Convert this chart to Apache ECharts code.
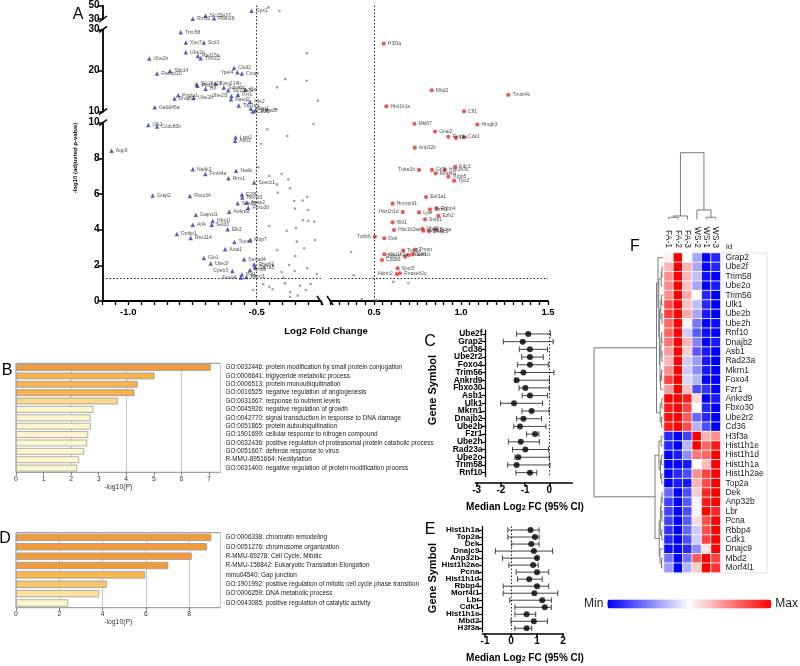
<!DOCTYPE html>
<html><head><meta charset="utf-8">
<script src="https://cdn.jsdelivr.net/npm/echarts@6/dist/echarts.min.js"></script>
<style>html,body{margin:0;padding:0;background:#fff}#c{width:800px;height:666px}</style>
</head><body><div id="c"></div>
<script>
const FONT = '"Liberation Sans", Arial, Helvetica, sans-serif';

// ---------------- Panel A : volcano ----------------
const downGenes = ['Gpx1','Slc25a37','Rnf10','Rbm38','Trim58','Xpo7','Scd1','Ube2o','Rad23a','Tmcc2',
 'Ube2h','Slfn14','Ranbp10','Cisd2','Ypel4','Cmas','Slc16a10','Pim1','Hlf','Fam214b',
 'Sowahc','Slc25a39','Cat','Ube2l3','Fzr1','Pnpla1','Dnajb2','Ube2b','Gadd45a','Rasd2',
 'Top1mt','Hfe2','Mkrn1','Cd36','St3gal5','Ulk1','Ccdc60b','Aqp9','Lpin2','Asb1',
 'Nadk2','Fmnl4a','Nadk','Rrm1','Specc1','Grap2','Fbxo34','E2f8','Hectd3','Asap2',
 'Snx15','Fbxo30','Ankrd9','Gapvd1','Hbs1l','Setd3','Arl4','Elk3','Dnttip1','Rec114',
 'Tcea3','Mpp7','Acat1','Glo1','Ube2f','Sertad4','Rhebl1','Slc7a5','Cpeb3','Rhob',
 'Pld1','Foxo4','Mkrn3'];
const downLfc = [-0.52,-0.699,-0.749,-0.666,-0.796,-0.776,-0.706,-0.776,-0.729,-0.718,
 -0.918,-0.838,-0.888,-0.588,-0.575,-0.558,-0.734,-0.731,-0.699,-0.66,
 -0.628,-0.611,-0.544,-0.598,-0.573,-0.806,-0.82,-0.745,-0.897,-0.6,
 -0.57,-0.526,-0.523,-0.515,-0.505,-0.922,-0.888,-1.065,-0.582,-0.584,
 -0.749,-0.7,-0.58,-0.61,-0.51,-0.905,-0.76,-0.558,-0.556,-0.539,
 -0.574,-0.533,-0.607,-0.737,-0.671,-0.675,-0.749,-0.613,-0.811,-0.757,
 -0.587,-0.526,-0.623,-0.706,-0.679,-0.549,-0.51,-0.507,-0.595,-0.526,
 -0.558,-0.562,-0.54];
const downNlp = [42.5,35,30.5,31,29.3,26.8,26.8,24.4,23.5,23.0,
 22.9,19.9,19.3,20.6,19.6,19.3,16.7,16.3,15.6,16.8,
 15.9,15.2,15.3,13.8,14.1,14.0,13.2,13.3,11.1,13.0,
 11.5,12.4,10.8,10.05,10.3,9.87,9.78,8.43,9.18,8.99,
 7.39,7.12,7.31,6.88,6.64,5.91,5.89,5.98,5.8,5.53,
 5.48,5.23,5.01,4.84,4.49,4.28,4.28,4.02,3.76,3.53,
 3.31,3.42,2.9,2.41,2.11,2.34,2.06,1.89,1.68,1.74,
 1.48,1.32,1.35];

const upGenes = ['H3f3a','Mbd2','Tmsb4x','Hist1h1e','Cfl1','Hmgb3','Mki67','Gnai2','Rex1','Lbr',
 'Cdk1','Anp32b','Kifc1','Tuba1b','Gtf3','Hist1h3c','Morf4l1','Tubb5','Tpx2','Eef1a1',
 'Hnrnpul1','Rbbp4','Srrm1','Lyar','Hist1h1d','Ezh2','Ssrp1','Rbl1','Uhrf2','Hist1h2ae',
 'Pcna','Anp32e','Dnajc9','Tubb6','Dek','Top2a','Tmpo','Hist1h1a','Eef1d','Rbbp7',
 'Nudt4','Cdca3','Smc5','Akirin2','Rnaseh2c'];
const upLfc = [0.556,0.832,1.272,0.571,1.017,1.094,0.732,0.851,0.927,0.971,
 1.017,0.734,0.967,0.759,0.833,0.908,0.855,0.927,0.96,0.799,
 0.607,0.86,0.822,0.759,0.665,0.87,0.793,0.607,0.778,0.615,
 0.855,0.784,0.816,0.505,0.559,0.668,0.736,0.559,0.722,0.678,
 0.699,0.546,0.636,0.631,0.649];
const upNlp = [26.5,15.2,14.1,11.3,10.1,9.9,9.94,9.5,9.21,9.14,
 9.2,8.6,7.53,7.35,7.35,7.35,7.16,6.97,6.75,5.83,
 5.46,5.2,5.14,4.97,4.99,4.77,4.58,4.41,4.04,3.98,
 4.02,3.94,3.91,3.61,3.52,2.82,2.88,2.62,2.62,2.49,
 2.58,2.3,1.83,1.51,1.55];

const nsLfc = [-0.454,-0.411,
 -0.305,-0.389,-0.305,-0.42,-0.262,-0.423,-0.46,
 -0.459,-0.381,-0.279,-0.483,
 -0.494,-0.451,-0.403,-0.377,-0.421,-0.37,-0.418,-0.303,-0.354,-0.321,
 -0.351,-0.301,-0.32,-0.299,-0.276,-0.451,-0.383,-0.347,-0.344,-0.273,
 -0.315,-0.42,-0.35,-0.47,-0.438,-0.374,-0.352,-0.304,-0.403,-0.266,
 -0.475,-0.451,-0.438,-0.39,-0.331,-0.309,-0.29,-0.37,-0.34,-0.37,
 -0.513,-0.396,
 0.368,0.383,0.611,0.697,0.43,0.515];
const nsNlp = [47.5,42,
 24.2,17.9,17.5,15.9,12.7,10.6,10.4,
 9.63,9.25,9.93,8.82,
 7.5,7.01,7.12,6.83,6.54,6.32,6.07,5.83,5.61,5.63,
 5.18,5.1,4.53,4.49,4.45,4.21,3.94,4.09,3.33,3.42,
 2.96,2.86,2.52,1.92,2.02,2.02,1.68,1.83,1.63,1.51,
 0.94,0.8,0.66,0.99,0.86,0.62,0.95,0.5,0.3,0.24,
 0.62,1.31,
 2.75,1.44,1.07,1.01,0.1,0.05];
const leftLabelGenes = ['Ypel4','Ube2l3','Foxo4','Tuba1b','Hist1h1d','Akirin2','Tubb6','Cpeb3','Rbbp7'];
const aYTicks = [[30,50],[10,20,30],[0,2,4,6,8,10]];
const aXLabels = {L:[-1,-0.5], R:[0.5,1,1.5]};

// ---------------- Panel B / D : enrichment bars ----------------
const bTerms = ['GO:0032446: protein modification by small protein conjugation',
 'GO:0006641: triglyceride metabolic process',
 'GO:0006513: protein monoubiquitination',
 'GO:0016525: negative regulation of angiogenesis',
 'GO:0031667: response to nutrient levels',
 'GO:0045926: negative regulation of growth',
 'GO:0042770: signal transduction in response to DNA damage',
 'GO:0051865: protein autoubiquitination',
 'GO:1901699: cellular response to nitrogen compound',
 'GO:0032436: positive regulation of proteasomal protein catabolic process',
 'GO:0051607: defense response to virus',
 'R-MMU-8951664: Neddylation',
 'GO:0031400: negative regulation of protein modification process'];
const bValues = [7.07,5.03,4.41,4.30,3.70,2.81,2.71,2.71,2.62,2.58,2.47,2.29,2.22];
const bColors = ['#f39a3c','#f7b24c','#f7b24c','#f7b24c','#fcd68e','#fef6cc','#fef6cc','#fef6cc','#fef6cc','#fef6cc','#fef6cc','#fef6cc','#fef6cc'];
const bTicks = [0,1,2,3,4,5,6,7];

const dTerms = ['GO:0006338: chromatin remodeling',
 'GO:0051276: chromosome organization',
 'R-MMU-69278: Cell Cycle, Mitotic',
 'R-MMU-156842: Eukaryotic Translation Elongation',
 'mmu04540: Gap junction',
 'GO:1901992: positive regulation of mitotic cell cycle phase transition',
 'GO:0006259: DNA metabolic process',
 'GO:0043085: positive regulation of catalytic activity'];
const dValues = [9.03,8.82,8.12,7.04,5.97,4.20,3.85,2.41];
const dColors = ['#f39a3c','#f39a3c','#f39a3c','#f39a3c','#f9b84f','#fbc76a','#fde1a3','#fef6cc'];
const dTicks = [0,2,4,6,8];

// ---------------- Panel C / E : forest plots ----------------
const cGenes = ['Ube2f','Grap2','Cd36','Ube2r2','Foxo4','Trim56','Ankrd9','Fbxo30','Asb1','Ulk1','Mkrn1','Dnajb2','Ube2b','Fzr1','Ube2h','Rad23a','Ube2o','Trim58','Rnf10'];
const cMed = [-0.87,-1.1,-0.8,-0.8,-0.8,-1.07,-1.35,-0.99,-0.8,-1.46,-0.73,-1.07,-1.21,-0.59,-1.18,-0.99,-1.28,-1.35,-0.8];
const cLo  = [-1.35,-1.9,-1.24,-1.14,-1.32,-1.42,-1.42,-1.25,-1.12,-2.01,-1.13,-1.35,-1.47,-0.94,-1.69,-1.52,-1.42,-1.72,-1.38];
const cHi  = [0.05,0.16,-0.07,-0.25,-0.04,0.19,0.0,0.0,-0.07,-0.28,-0.01,-0.32,-0.14,-0.43,-0.41,-0.03,0.0,0.03,-0.52];
const cTicks = [-3,-2,-1,0];

const eGenes = ['Hist1h1a','Top2a','Dek','Dnajc9','Anp32b','Hist1h2ae','Pcna','Hist1h1d','Rbbp4','Morf4l1','Lbr','Cdk1','Hist1h1e','Mbd2','H3f3a'];
const eMed = [0.75,0.92,0.78,0.88,1.0,0.85,1.0,0.7,1.0,0.9,1.2,1.3,0.6,0.88,0.6];
const eLo  = [-0.12,-0.12,0.03,-0.6,-0.33,-0.08,0.2,0.25,-0.3,-0.3,-0.05,0.15,0.15,0.0,0.15];
const eHi  = [1.08,1.08,1.08,1.6,1.02,1.05,1.45,1.2,1.45,1.8,1.55,1.55,0.95,1.4,0.8];
const eTicks = [-1,0,1,2];

// ---------------- Panel F : heatmap ----------------
const fCols = ['FA-1','FA-2','FA-3','WS-2','WS-1','WS-3'];
const fRows = ['Grap2','Ube2f','Trim58','Ube2o','Trim56','Ulk1','Ube2b','Ube2h','Rnf10','Dnajb2','Asb1','Rad23a','Mkrn1','Foxo4','Fzr1','Ankrd9','Fbxo30','Ube2r2','Cd36',
 'H3f3a','Hist1h1e','Hist1h1d','Hist1h1a','Hist1h2ae','Top2a','Dek','Anp32b','Lbr','Pcna','Rbbp4','Cdk1','Dnajc9','Mbd2','Morf4l1'];
const fValues = [
 [0.05,1,0,-0.35,-1,-0.85],
 [0.3,1,0.3,-0.35,-1,-0.85],
 [0.45,1,0.3,-0.25,-0.95,-1],
 [0.45,1,0.25,-0.35,-1,-0.9],
 [0.45,1,0.35,0,-0.85,-1],
 [0.7,1,0.25,-0.25,-0.85,-1],
 [0.75,1,0.35,-0.35,-0.9,-1],
 [0.6,1,0.05,-0.55,-1,-0.95],
 [0.6,1,-0.2,-0.65,-0.95,-1],
 [0.55,1,0.3,-0.5,-1,-0.9],
 [0.4,1,0.2,-0.65,-0.9,-1],
 [0.3,1,-0.2,-0.4,-0.9,-1],
 [0.45,1,-0.2,-0.45,-0.9,-1],
 [0.75,1,-0.15,-0.3,-1,-1],
 [0.4,1,0.25,-0.7,-0.8,-1],
 [1,1,0.9,0.15,-1,-0.9],
 [0.9,1,0.75,0,-0.85,-1],
 [0.95,1,0.65,-0.6,-0.85,-1],
 [0.9,1,0.7,-0.3,-0.7,-1],
 [-0.85,-1,-0.75,1,0.3,0.45],
 [-0.85,-1,-0.3,1,0.6,0.9],
 [-1,-0.9,-0.45,0.55,0.6,1],
 [-1,-1,-0.9,0,0.25,1],
 [-1,-0.85,-0.7,0.45,0.75,1],
 [-1,-0.9,-0.9,0.3,0.7,1],
 [-0.6,-1,-0.7,0.2,0.85,1],
 [-0.75,-1,-0.65,0.05,0.9,1],
 [-0.75,-1,-0.7,0.05,1,0.85],
 [-0.75,-1,-0.65,0.15,0.7,1],
 [-0.8,-1,-0.6,-0.2,0.7,1],
 [-0.85,-1,-0.7,-0.2,0.75,1],
 [-0.95,-1,-0.85,-0.45,0.1,1],
 [-0.55,-1,-0.55,0.65,1,0.75],
 [-0.4,-1,-0.3,0.2,1,0.8]];
// dendrogram merges [childA, childB, height]; leaves are 0..n-1, merge k gets id n+k
const colMerges = [[0,1,0.6],[6,2,1.0],[4,5,0.6],[3,8,2.8],[7,9,20]];
const rowMerges = [[1,2,1.2],[34,3,1.8],[4,5,1.4],[6,7,1.0],[36,37,2.2],[8,9,1.3],[10,11,1.1],[39,40,2.0],
 [12,13,1.5],[42,14,2.4],[41,43,3.0],[38,44,3.6],[35,45,4.2],[0,46,5.0],[15,16,1.2],[17,18,1.6],[48,49,2.8],[47,50,6.5],
 [19,20,1.8],[21,22,1.4],[23,24,1.2],[53,54,2.5],[52,55,4.0],[25,26,1.0],[27,28,1.1],[57,58,1.9],[29,30,1.3],[59,60,2.6],
 [32,33,1.5],[31,62,3.0],[61,63,3.8],[56,64,8.0],[51,65,69]];

// =====================================================================
const grids = [], xAxes = [], yAxes = [], series = [];
function addGrid(g){ g.outerBoundsMode = 'none'; grids.push(g); return grids.length - 1; }

// ---- Panel A construction ----
const segDefs = [
  {top:5.7, height:13.3, min:30, max:50},
  {top:29.3, height:82.4, min:10, max:30},
  {top:122.7, height:178.3, min:0, max:10}];
const sideDefs = {L:{left:102.6, width:218.3, min:-1.1, max:-0.25}, R:{left:330.5, width:217.5, min:0.25, max:1.5}};
function segIndex(n){ return n > 30 ? 0 : (n > 10 ? 1 : 2); }
function tickSteps(min, max){ const t=[]; for(let v=Math.round(min*20); v<=Math.round(max*20); v++) t.push(v/20); return t; }
const dotLine = {color:'#222', width:1, type:[1.5,2]};

['L','R'].forEach(side => {
  const sd = sideDefs[side];
  segDefs.forEach((sg, si) => {
    const g = addGrid({left:sd.left, width:sd.width, top:sg.top, height:sg.height});
    const isBottom = si === 2;
    xAxes.push({type:'value', gridIndex:g, min:sd.min, max:sd.max, show:isBottom,
      axisLine:{show:true, onZero:false, lineStyle:{color:'#000', width:1.8}},
      axisTick:{show:true, customValues:tickSteps(sd.min, sd.max), length:4, lineStyle:{color:'#000', width:1.3}},
      axisLabel:{customValues:aXLabels[side], formatter:v=>v.toFixed(1), fontSize:9.5, fontWeight:'bold', color:'#000', margin:6, fontFamily:FONT},
      splitLine:{show:false}});
    yAxes.push({type:'value', gridIndex:g, min:sg.min, max:sg.max, show:side==='L',
      axisLine:{show:true, onZero:false, lineStyle:{color:'#000', width:1.8}},
      axisTick:{show:true, customValues:aYTicks[si], length:5, lineStyle:{color:'#000', width:1.5}},
      axisLabel:{customValues:aYTicks[si], fontSize:10, fontWeight:'bold', color:'#000', margin:3, fontFamily:FONT},
      splitLine:{show:false}});
    const ax = xAxes.length - 1, ay = yAxes.length - 1;
    const inSide = v => side === 'L' ? v < 0 : v > 0;
    const ns = [];
    nsLfc.forEach((v,i) => { if (inSide(v) && segIndex(nsNlp[i]) === si) ns.push([v, nsNlp[i]]); });
    const nsSeries = {type:'scatter', xAxisIndex:ax, yAxisIndex:ay, data:ns, symbol:'circle', symbolSize:2.6,
      itemStyle:{color:'#8a8a8a'}, silent:true, z:2};
    if (isBottom) nsSeries.markLine = {silent:true, symbol:['none','none'], label:{show:false}, lineStyle:dotLine, data:[{yAxis:1.3}]};
    series.push(nsSeries);
    const genes = side === 'L' ? downGenes : upGenes;
    const lfc = side === 'L' ? downLfc : upLfc;
    const nlp = side === 'L' ? downNlp : upNlp;
    const pts = [];
    genes.forEach((nm,i) => {
      if (segIndex(nlp[i]) !== si) return;
      const left = leftLabelGenes.indexOf(nm) >= 0;
      pts.push({name:nm, value:[lfc[i], nlp[i]], label:{position:left?'left':'right'}});
    });
    series.push({type:'scatter', xAxisIndex:ax, yAxisIndex:ay, data:pts,
      symbol: side === 'L' ? 'triangle' : 'circle', symbolSize: side === 'L' ? 4.5 : 4.2,
      itemStyle:{color: side === 'L' ? '#2e3aa6' : '#e3302b'}, z:3,
      label:{show:true, formatter:'{b}', fontSize:5, color:'#222', distance:2, fontFamily:FONT}});
  });
  // overlay grid for full-height dotted FC threshold
  const og = addGrid({left:sd.left, width:sd.width, top:5.7, height:295.3});
  xAxes.push({type:'value', gridIndex:og, min:sd.min, max:sd.max, show:false});
  yAxes.push({type:'value', gridIndex:og, min:0, max:1, show:false});
  series.push({type:'scatter', xAxisIndex:xAxes.length-1, yAxisIndex:yAxes.length-1, data:[], silent:true,
    markLine:{silent:true, symbol:['none','none'], label:{show:false}, lineStyle:dotLine, data:[{xAxis: side==='L' ? -0.5 : 0.5}]}});
});

// ---- Panels B and D ----
function enrichPanel(top, height, max, terms, values, colors, ticks, barW){
  const g = addGrid({left:16, width:204.5, top:top, height:height, show:true, borderColor:'#8c8c8c', borderWidth:1});
  xAxes.push({type:'value', gridIndex:g, min:0, max:max, position:'bottom',
    axisLine:{show:false}, axisTick:{show:true, customValues:ticks, length:3, lineStyle:{color:'#777'}},
    axisLabel:{customValues:ticks, fontSize:6.8, color:'#333', margin:3, fontFamily:FONT},
    splitLine:{show:false}, name:'-log10(P)', nameLocation:'middle', nameGap:11,
    nameTextStyle:{fontSize:6.8, color:'#333', fontFamily:FONT}});
  const bx = xAxes.length - 1;
  xAxes.push({type:'value', gridIndex:g, min:0, max:max, interval:2, position:'bottom',
    axisLine:{show:false}, axisTick:{show:false}, axisLabel:{show:false},
    splitLine:{show:true, lineStyle:{color:'#c8c8c8', width:1}}});
  yAxes.push({type:'category', gridIndex:g, data:terms, inverse:true, position:'right',
    axisLine:{show:false}, axisTick:{show:false},
    axisLabel:{interval:0, fontSize:6.4, color:'#222', margin:5, align:'left', fontFamily:FONT}});
  series.push({type:'bar', xAxisIndex:bx, yAxisIndex:yAxes.length-1, barWidth:barW,
    data: values.map((v,i)=>({value:v, itemStyle:{color:colors[i]}})),
    itemStyle:{borderColor:'#9a9a9a', borderWidth:0.8}, silent:true, z:3});
}
enrichPanel(363.3, 109, 7.42, bTerms, bValues, bColors, bTicks, 6.8);
enrichPanel(532.7, 75, 9.45, dTerms, dValues, dColors, dTicks, 7.3);

// ---- Panels C and E ----
function errRender(params, api){
  const y = api.value(2);
  const a = api.coord([api.value(0), y]), b = api.coord([api.value(1), y]);
  const c = 2.8, st = {stroke:'#444', lineWidth:1};
  return {type:'group', children:[
    {type:'line', shape:{x1:a[0], y1:a[1], x2:b[0], y2:b[1]}, style:st},
    {type:'line', shape:{x1:a[0], y1:a[1]-c, x2:a[0], y2:a[1]+c}, style:st},
    {type:'line', shape:{x1:b[0], y1:b[1]-c, x2:b[0], y2:b[1]+c}, style:st}]};
}
function forestPanel(box, xmin, xmax, xOffset, yOffset, genes, med, lo, hi, ticks, labelSize){
  const g = addGrid(box);
  xAxes.push({type:'value', gridIndex:g, min:xmin, max:xmax, offset:xOffset,
    axisLine:{show:true, onZero:false, lineStyle:{color:'#000', width:1.5}},
    axisTick:{show:true, customValues:ticks, length:4, lineStyle:{color:'#000', width:1.5}},
    axisLabel:{customValues:ticks, fontSize:10, fontWeight:'bold', color:'#000', margin:3, fontFamily:FONT},
    splitLine:{show:false}});
  yAxes.push({type:'category', gridIndex:g, data:genes, inverse:true, offset:yOffset,
    axisLine:{show:true, onZero:false, lineStyle:{color:'#000', width:1.3}},
    axisTick:{show:true, alignWithLabel:true, interval:0, length:4, lineStyle:{color:'#000', width:1.2}},
    axisLabel:{interval:0, fontSize:labelSize, fontWeight:'bold', color:'#000', margin:3, fontFamily:FONT},
    splitLine:{show:false}});
  const ax = xAxes.length-1, ay = yAxes.length-1;
  series.push({type:'custom', xAxisIndex:ax, yAxisIndex:ay, renderItem:errRender,
    encode:{x:[0,1], y:2}, data: genes.map((n,i)=>[lo[i], hi[i], i]), silent:true, z:3});
  series.push({type:'scatter', xAxisIndex:ax, yAxisIndex:ay, symbolSize:6, itemStyle:{color:'#000'},
    data: genes.map((n,i)=>[med[i], i]), silent:true, z:4,
    markLine:{silent:true, symbol:['none','none'], label:{show:false}, lineStyle:dotLine, data:[{xAxis:0}]}});
}
forestPanel({left:475.5, top:330.1, width:96.8, height:146.4}, -3.05, 0.95, 6, -10, cGenes, cMed, cLo, cHi, cTicks, 8.4);
forestPanel({left:482.4, top:526.5, width:80.6, height:105.3}, -1.1, 2, 1.5, 0, eGenes, eMed, eLo, eHi, eTicks, 8);

// ---- Panel F ----
function treeSegments(n, merges){
  const pos = [], hgt = [], out = [];
  for (let i=0;i<n;i++){ pos[i]=i; hgt[i]=0; }
  merges.forEach((m,k) => { const id=n+k; pos[id]=(pos[m[0]]+pos[m[1]])/2; hgt[id]=m[2];
    out.push([pos[m[0]], hgt[m[0]], pos[m[1]], hgt[m[1]], m[2]]); });
  return out;
}
function dendroRender(vertical){
  return function(params, api){
    const pA=api.value(0), hA=api.value(1), pB=api.value(2), hB=api.value(3), h=api.value(4);
    const pt = vertical ? (p,hh)=>api.coord([p,hh]) : (p,hh)=>api.coord([hh,p]);
    return {type:'polyline', shape:{points:[pt(pA,hA), pt(pA,h), pt(pB,h), pt(pB,hB)]},
      style:{stroke:'#7a7a7a', fill:'none', lineWidth:1}};
  };
}
const hg = addGrid({left:664, top:253, width:56.4, height:319.6});
xAxes.push({type:'category', gridIndex:hg, data:fCols, position:'top',
  axisLine:{show:false}, axisTick:{show:false},
  axisLabel:{interval:0, rotate:90, fontSize:8.5, color:'#222', margin:5, fontFamily:FONT}});
yAxes.push({type:'category', gridIndex:hg, data:fRows, inverse:true, position:'right',
  axisLine:{show:false}, axisTick:{show:false},
  axisLabel:{interval:0, fontSize:8.5, color:'#222', margin:5, fontFamily:FONT}});
const heatData = [];
fValues.forEach((row,r) => row.forEach((v,c) => heatData.push([c, r, v])));
series.push({type:'heatmap', xAxisIndex:xAxes.length-1, yAxisIndex:yAxes.length-1, data:heatData,
  itemStyle:{borderColor:'#ffffff', borderWidth:0.8}, silent:true});
const heatSeriesIndex = series.length - 1;

const cg = addGrid({left:664, top:152.7, width:56.4, height:66.6});
xAxes.push({type:'value', gridIndex:cg, min:-0.5, max:5.5, show:false});
yAxes.push({type:'value', gridIndex:cg, min:0, max:20, show:false});
series.push({type:'custom', xAxisIndex:xAxes.length-1, yAxisIndex:yAxes.length-1, renderItem:dendroRender(true),
  data:treeSegments(fCols.length, colMerges), silent:true});

const rg = addGrid({left:593, top:253, width:70, height:319.6});
xAxes.push({type:'value', gridIndex:rg, min:0, max:70, inverse:true, show:false});
yAxes.push({type:'value', gridIndex:rg, min:-0.5, max:33.5, inverse:true, show:false});
series.push({type:'custom', xAxisIndex:xAxes.length-1, yAxisIndex:yAxes.length-1, renderItem:dendroRender(false),
  data:treeSegments(fRows.length, rowMerges), silent:true});

// ---- decorations / titles ----
function txt(x, y, text, font, extra){
  return Object.assign({type:'text', x:x, y:y, silent:true,
    style:Object.assign({text:text, font:font, fill:'#000', textAlign:'center', textVerticalAlign:'middle', verticalAlign:'middle'}, extra||{})});
}
function seg(x1,y1,x2,y2,w){ return {type:'line', silent:true, shape:{x1,y1,x2,y2}, style:{stroke:'#000', lineWidth:w||1.5}}; }
const subRich = {s:{fontSize:7, fontWeight:'bold', fontFamily:FONT, verticalAlign:'bottom', lineHeight:9}};
const elements = [
  txt(78, 15, 'A', '16px ' + FONT),
  txt(7, 371, 'B', '16px ' + FONT),
  txt(430, 342, 'C', '16px ' + FONT),
  txt(5, 539, 'D', '16px ' + FONT),
  txt(430, 530, 'E', '16px ' + FONT),
  txt(635, 247, 'F', '16px ' + FONT),
  txt(326, 331, 'Log2 Fold Change', 'bold 9.6px ' + FONT),
  Object.assign(txt(75, 158, '-log10 (adjusted p-value)', 'bold 6px ' + FONT), {rotation:Math.PI/2}),
  Object.assign(txt(433, 390, 'Gene Symbol', 'bold 11px ' + FONT), {rotation:Math.PI/2}),
  Object.assign(txt(433, 578, 'Gene Symbol', 'bold 11px ' + FONT), {rotation:Math.PI/2}),
  txt(525, 507, 'Median Log{s|2} FC (95% CI)', 'bold 10px ' + FONT, {rich:subRich}),
  txt(525, 658, 'Median Log{s|2} FC (95% CI)', 'bold 10px ' + FONT, {rich:subRich}),
  txt(729, 247, 'id', '8px ' + FONT, {fill:'#222'}),
  {type:'rect', silent:true, z:-1, shape:{x:664, y:253, width:103, height:320}, style:{fill:'none', stroke:'#e2e2e2', lineWidth:1}},
  // axis break marks
  seg(99,22,107,16), seg(99,32.3,107,26.3), seg(99,114.7,107,108.7), seg(99,125.7,107,119.7),
  seg(317,296,323,305), seg(327,296,333,305)
];

const option = {
  animation:false,
  textStyle:{fontFamily:FONT},
  grid:grids, xAxis:xAxes, yAxis:yAxes, series:series,
  visualMap:[{type:'continuous', min:-1, max:1, orient:'horizontal', left:569, top:583,
    itemWidth:9, itemHeight:164, text:['Max','Min'], textGap:4, calculable:false,
    seriesIndex:heatSeriesIndex, inRange:{color:['#0000ff','#ffffff','#ff0000']},
    textStyle:{fontSize:12, color:'#222', fontFamily:FONT}}],
  graphic:{elements:elements}
};
const chart = echarts.init(document.getElementById('c'), null, {renderer:'canvas'});
chart.setOption(option);
</script></body></html>
